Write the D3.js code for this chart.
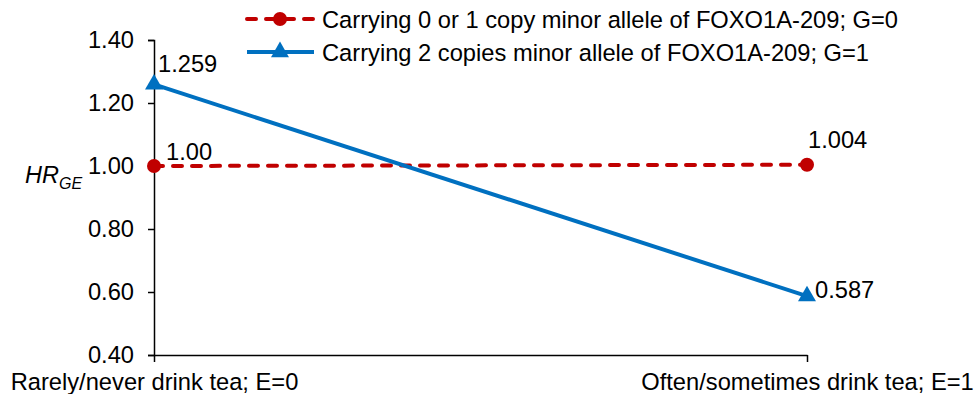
<!DOCTYPE html>
<html>
<head>
<meta charset="utf-8">
<script src="https://cdn.jsdelivr.net/npm/d3@7"></script>
<style>
  body { margin: 0; background: #fff; }
  text { font-family: "Liberation Sans", Arial, sans-serif; fill: #000; }
</style>
</head>
<body>
<div id="chart"></div>
<script>
// categories (exposure groups)
const categories = ["Rarely/never drink tea; E=0", "Often/sometimes drink tea; E=1"]
// series values
const seriesNames = [
    "Carrying 0 or 1 copy minor allele of FOXO1A-209; G=0",
    "Carrying 2 copies minor allele of FOXO1A-209; G=1"
]
const g0Values = [1.00, 1.004]
const g1Values = [1.259, 0.587]
const g0Labels = ["1.00", "1.004"]
const g1Labels = ["1.259", "0.587"]
// y ticks
const yTicks = [0.40, 0.60, 0.80, 1.00, 1.20, 1.40]

const width = 974, height = 394
const margin = { top: 40, right: 167, bottom: 39, left: 154 }
const fontSize = "23.7px"

const svg = d3.select("#chart").append("svg")
    .attr("width", width)
    .attr("height", height)

const x = d3.scalePoint()
    .domain(categories)
    .range([margin.left, width - margin.right])

const y = d3.scaleLinear()
    .domain([0.4, 1.4])
    .range([height - margin.bottom, margin.top])

// y axis
const yAxis = svg.append("g")
    .attr("transform", `translate(${margin.left},0)`)
    .call(d3.axisLeft(y).tickValues(yTicks).tickFormat(d3.format(".2f")).tickSize(6).tickPadding(14))
yAxis.select(".domain").attr("stroke", "#000").attr("stroke-width", 1.5)
yAxis.selectAll(".tick line").attr("stroke", "#000").attr("stroke-width", 1.5)
yAxis.selectAll("text").style("font-size", fontSize).attr("fill", "#000")

// x axis
const xAxis = svg.append("g")
    .attr("transform", `translate(0,${height - margin.bottom})`)
    .call(d3.axisBottom(x).tickSize(7).tickSizeOuter(0).tickPadding(11))
xAxis.select(".domain").attr("stroke", "#000").attr("stroke-width", 1.5)
xAxis.selectAll(".tick line").attr("stroke", "#000").attr("stroke-width", 1.5)
xAxis.selectAll("text").style("font-size", fontSize).attr("fill", "#000")

// y axis title HR_GE
const yTitle = svg.append("text")
    .attr("x", 25)
    .attr("y", 183)
    .style("font-size", "23.5px")
    .style("font-style", "italic")
yTitle.append("tspan").text("HR")
yTitle.append("tspan").attr("dy", 6).style("font-size", "16px").text("GE")

const line = d3.line()
    .x((d, i) => x(categories[i]))
    .y(d => y(d))

const red = "#C00000", blue = "#0070C0"
const dash = "9,10"

// G=0 series
svg.append("path")
    .datum(g0Values)
    .attr("d", line)
    .attr("fill", "none")
    .attr("stroke", red)
    .attr("stroke-width", 4)
    .attr("stroke-linecap", "round")
    .attr("stroke-dasharray", dash)

svg.selectAll(".dot")
    .data(g0Values)
    .join("circle")
    .attr("cx", (d, i) => x(categories[i]))
    .attr("cy", d => y(d))
    .attr("r", 7)
    .attr("fill", red)

// G=1 series
svg.append("path")
    .datum(g1Values)
    .attr("d", line)
    .attr("fill", "none")
    .attr("stroke", blue)
    .attr("stroke-width", 4)

const tri = d3.symbol().type(d3.symbolTriangle).size(140)
svg.selectAll(".tri")
    .data(g1Values)
    .join("path")
    .attr("transform", (d, i) => `translate(${x(categories[i])},${y(d)})`)
    .attr("d", tri)
    .attr("fill", blue)

// data labels
const labelOffsets0 = [[12, -6], [1, -17]]
const labelOffsets1 = [[4, -12], [8, 2]]
svg.selectAll(".lab0")
    .data(g0Values)
    .join("text")
    .attr("x", (d, i) => x(categories[i]) + labelOffsets0[i][0])
    .attr("y", (d, i) => y(d) + labelOffsets0[i][1])
    .style("font-size", fontSize)
    .text((d, i) => g0Labels[i])

svg.selectAll(".lab1")
    .data(g1Values)
    .join("text")
    .attr("x", (d, i) => x(categories[i]) + labelOffsets1[i][0])
    .attr("y", (d, i) => y(d) + labelOffsets1[i][1])
    .style("font-size", fontSize)
    .text((d, i) => g1Labels[i])

// legend
const legend = svg.append("g")
const legendRows = [
    { name: seriesNames[0], color: red, dash: dash, marker: "circle", y: 19 },
    { name: seriesNames[1], color: blue, dash: null, marker: "triangle", y: 52 }
]
legendRows.forEach(r => {
    legend.append("line")
        .attr("x1", 247).attr("x2", 314)
        .attr("y1", r.y).attr("y2", r.y)
        .attr("stroke", r.color)
        .attr("stroke-width", 4)
        .attr("stroke-linecap", r.dash ? "round" : "butt")
        .attr("stroke-dasharray", r.dash)
    if (r.marker === "circle") {
        legend.append("circle").attr("cx", 280).attr("cy", r.y).attr("r", 7).attr("fill", r.color)
    } else {
        legend.append("path").attr("transform", `translate(280,${r.y})`).attr("d", tri).attr("fill", r.color)
    }
    legend.append("text")
        .attr("x", 322)
        .attr("y", r.y + 9)
        .style("font-size", fontSize)
        .text(r.name)
})
</script>
</body>
</html>
